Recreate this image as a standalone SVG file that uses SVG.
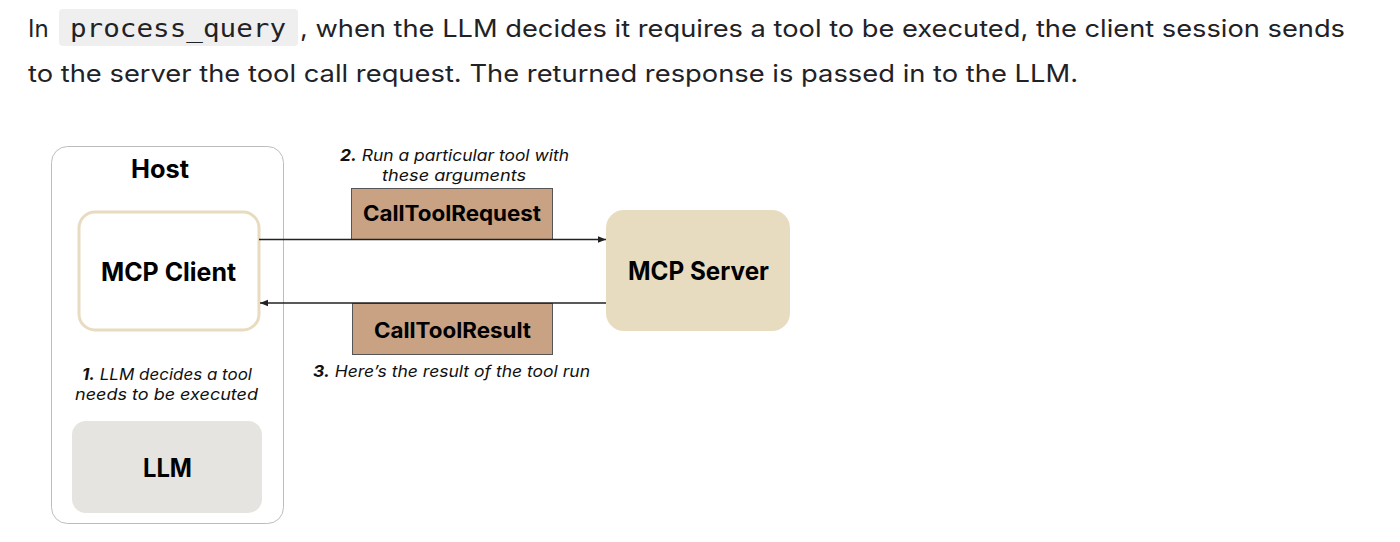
<svg xmlns="http://www.w3.org/2000/svg" width="1400" height="542" viewBox="0 0 1400 542">
<style>
.prose{font-family:Inter,"Liberation Sans",sans-serif;font-size:24px;fill:#1f2328}
.code{font-family:"DejaVu Sans Mono","Liberation Mono",monospace;font-size:25px;fill:#1f2328}
.b{font-family:Inter,"Liberation Sans",sans-serif;font-weight:700;font-size:25px;fill:#000;text-anchor:middle}
.bs{font-family:Inter,"Liberation Sans",sans-serif;font-weight:700;font-size:21px;fill:#000;text-anchor:middle}
.it{font-family:Inter,"Liberation Sans",sans-serif;font-style:italic;font-size:16px;fill:#111;text-anchor:middle}
.msg{fill:#c9a283;stroke:#555;stroke-width:1}
.conn{stroke:#222;stroke-width:1.3;fill:none}
</style>
<defs>
<marker id="ah" viewBox="0 0 10 10" refX="10" refY="5" markerWidth="8" markerHeight="8" markerUnits="userSpaceOnUse" orient="auto">
<path d="M0,1 L10,5 L0,9 z" fill="#222"/>
</marker>
</defs>
<rect width="1400" height="542" fill="#fff"/>
<g id="intro">
<rect x="59" y="9" width="239" height="37" rx="4" fill="#efefef"/>
<text class="prose" x="28" y="37">In</text>
<text class="code" x="70" y="37" textLength="216" lengthAdjust="spacingAndGlyphs">process_query</text>
<text class="prose" x="300" y="37" textLength="1045" lengthAdjust="spacingAndGlyphs">, when the LLM decides it requires a tool to be executed, the client session sends</text>
<text class="prose" x="28" y="82" textLength="1050" lengthAdjust="spacingAndGlyphs">to the server the tool call request. The returned response is passed in to the LLM.</text>
</g>
<g id="host">
<rect x="51.5" y="146.5" width="232" height="377" rx="16" fill="#fff" stroke="#bdbdbd" stroke-width="1"/>
<text class="b" x="160" y="178" textLength="58" lengthAdjust="spacingAndGlyphs">Host</text>
</g>
<g id="mcp-client">
<rect x="79" y="212" width="180" height="118" rx="16" fill="#fff" stroke="#e8dcc0" stroke-width="3"/>
<text class="b" x="168.5" y="281" textLength="135" lengthAdjust="spacingAndGlyphs">MCP Client</text>
</g>
<g id="llm-note">
<text class="it" x="167" y="380" textLength="170" lengthAdjust="spacingAndGlyphs"><tspan font-weight="700">1.</tspan> LLM decides a tool</text>
<text class="it" x="166.5" y="400" textLength="183" lengthAdjust="spacingAndGlyphs">needs to be executed</text>
</g>
<g id="llm">
<rect x="72" y="421" width="190" height="92" rx="14" fill="#e5e4e0"/>
<text class="b" x="167.5" y="477" textLength="49" lengthAdjust="spacingAndGlyphs">LLM</text>
</g>
<g id="mcp-server">
<rect x="606" y="210" width="184" height="121" rx="18" fill="#e8dcc0"/>
<text class="b" x="698.5" y="280" font-size="24" textLength="141" lengthAdjust="spacingAndGlyphs">MCP Server</text>
</g>
<g id="call-tool-request">
<text class="it" x="454.5" y="161" textLength="229" lengthAdjust="spacingAndGlyphs"><tspan font-weight="700">2.</tspan> Run a particular tool with</text>
<text class="it" x="454" y="181" textLength="144" lengthAdjust="spacingAndGlyphs">these arguments</text>
<rect class="msg" x="351.5" y="188.5" width="201" height="51"/>
<text class="bs" x="452" y="221" textLength="178" lengthAdjust="spacingAndGlyphs">CallToolRequest</text>
</g>
<g id="call-tool-result">
<rect class="msg" x="352.5" y="303.5" width="200" height="51"/>
<text class="bs" x="452.5" y="337.5" textLength="157" lengthAdjust="spacingAndGlyphs">CallToolResult</text>
<text class="it" x="451.5" y="377" textLength="277" lengthAdjust="spacingAndGlyphs"><tspan font-weight="700">3.</tspan> Here’s the result of the tool run</text>
</g>
<g id="connectors">
<line class="conn" x1="259" y1="239.5" x2="606" y2="239.5" marker-end="url(#ah)"/>
<line class="conn" x1="606" y1="303" x2="260" y2="303" marker-end="url(#ah)"/>
</g>
</svg>
